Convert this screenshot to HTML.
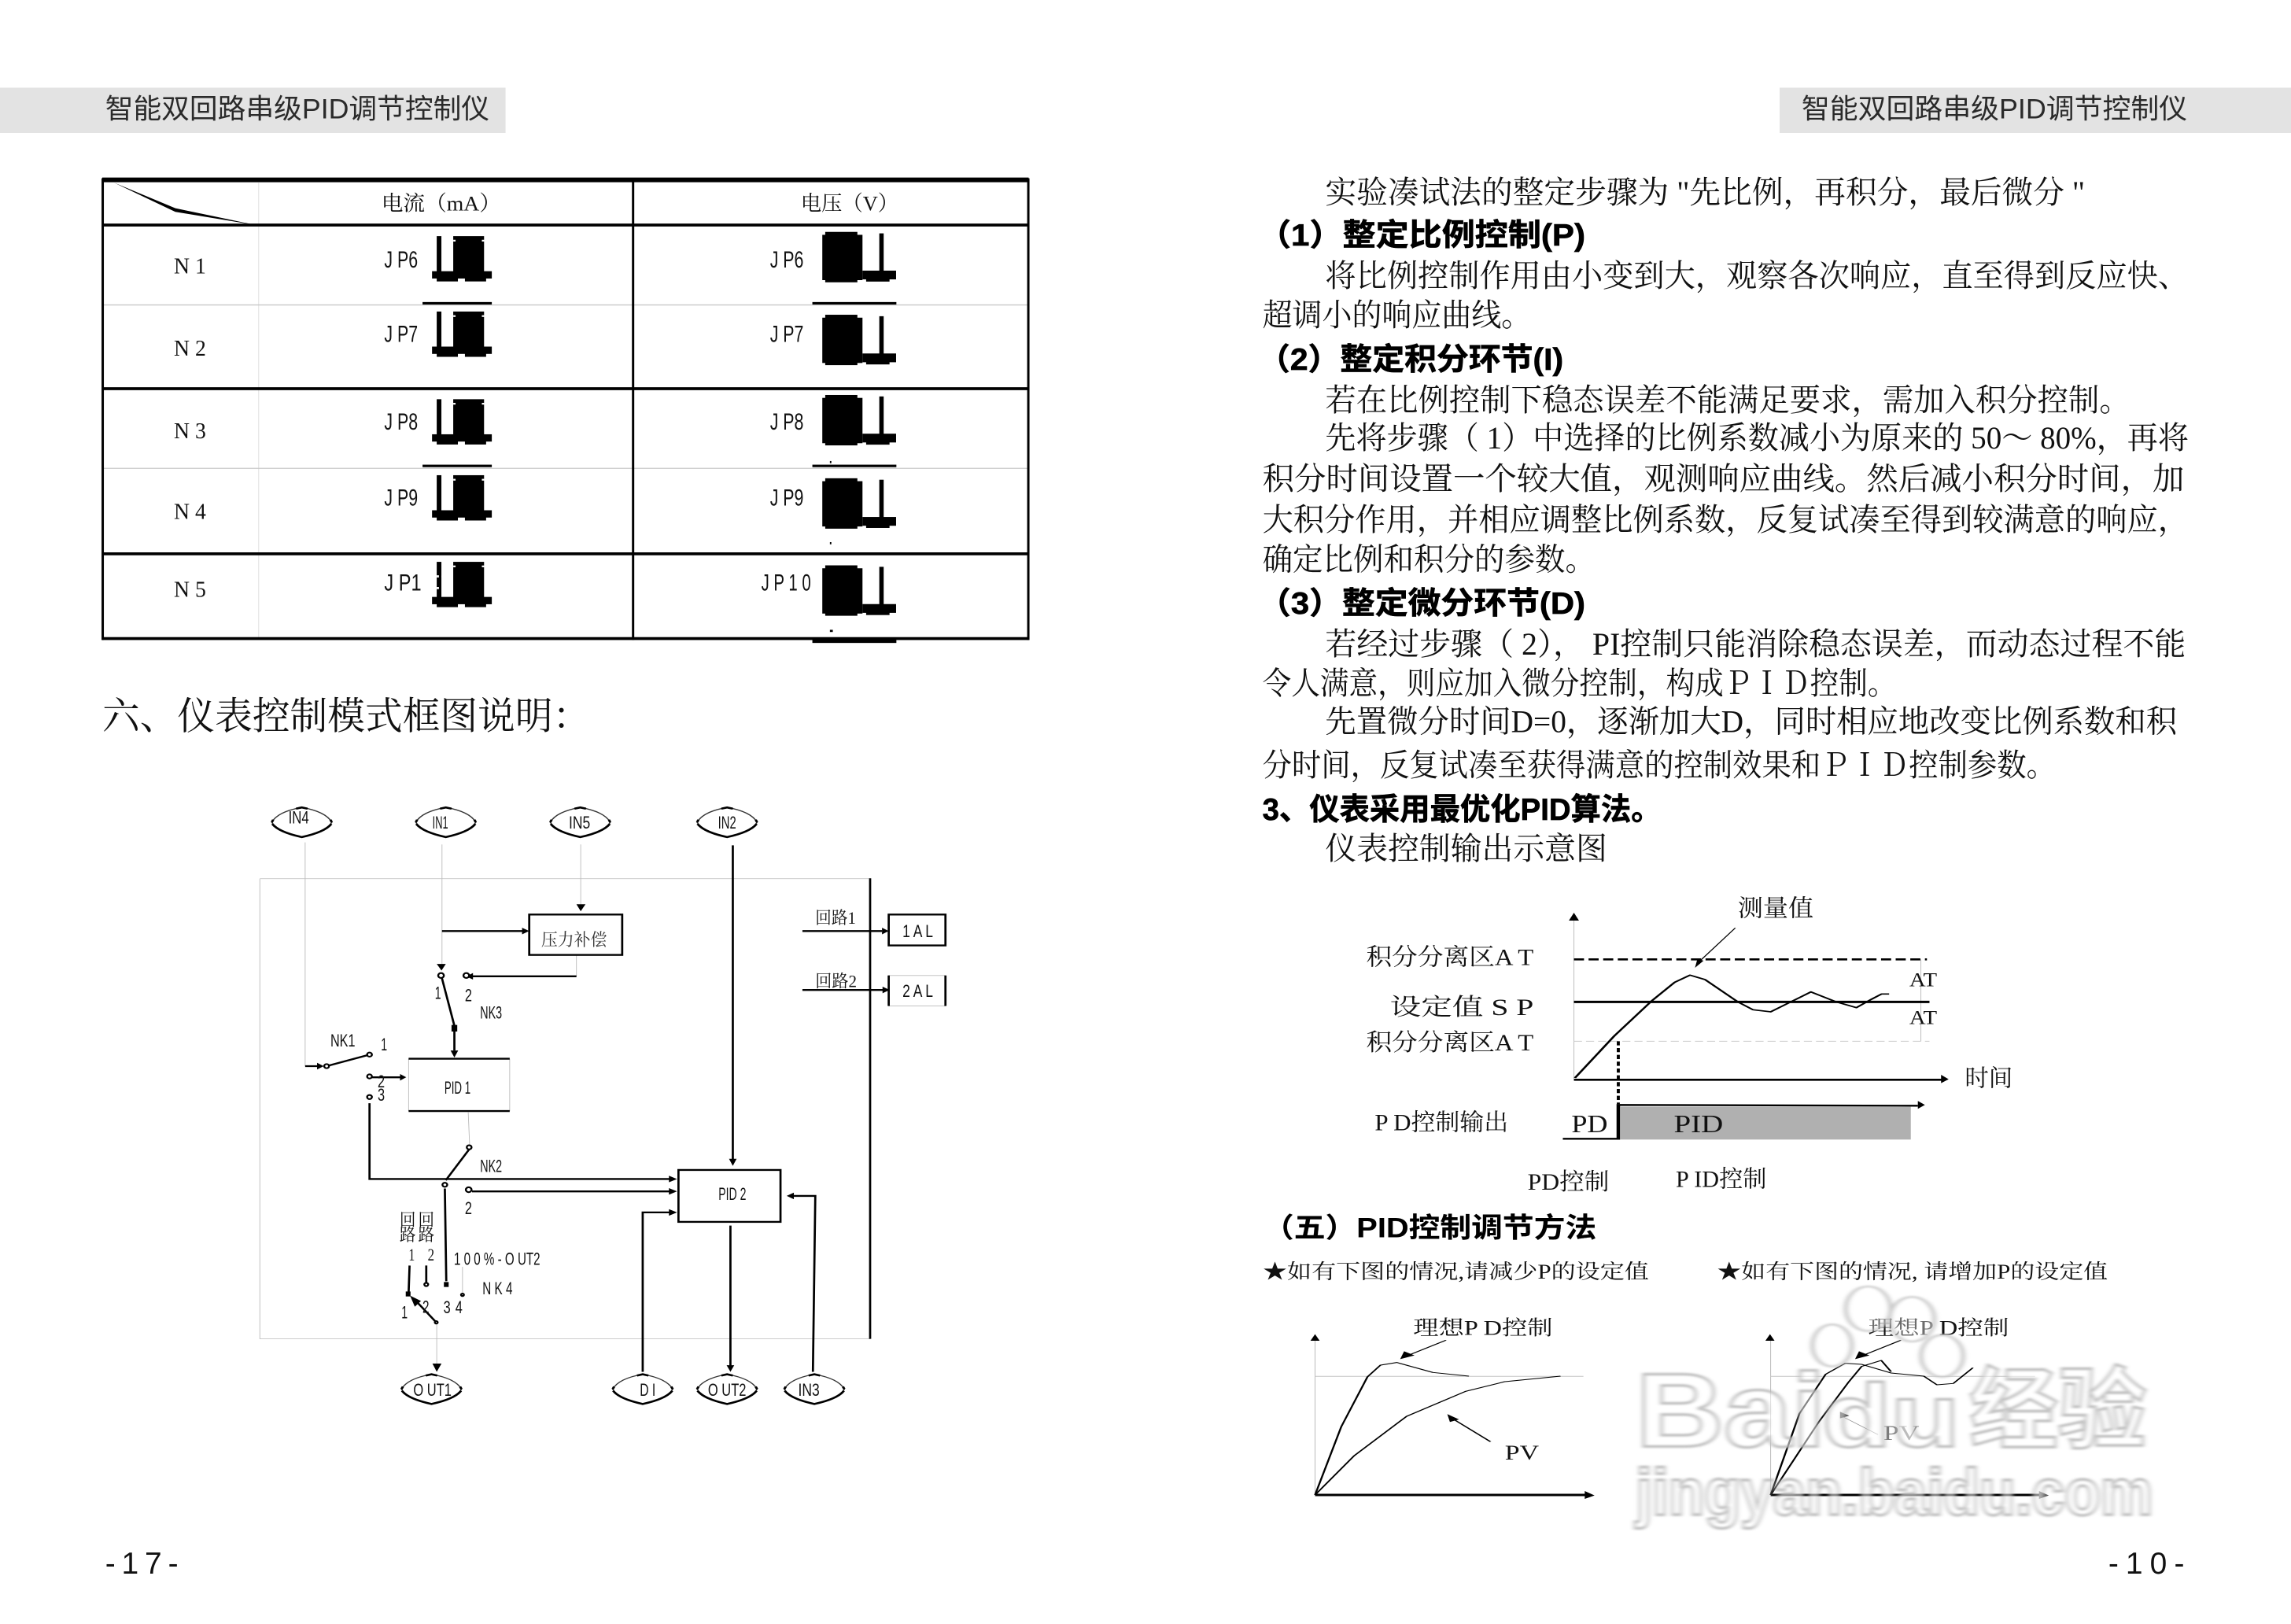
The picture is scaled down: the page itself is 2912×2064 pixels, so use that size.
<!DOCTYPE html>
<html><head><meta charset="utf-8">
<style>
html,body{margin:0;padding:0;background:#fff;width:2912px;height:2064px;overflow:hidden}
svg{display:block}
text{font-family:"Liberation Serif","Noto Serif CJK SC",serif;fill:#111}
.s,.s text{font-family:"Liberation Sans","Noto Sans CJK SC",sans-serif}
.b,.b text{font-family:"Liberation Sans","Noto Sans CJK SC",sans-serif;font-weight:700;fill:#000;stroke:#000;stroke-width:.35px}
.g{fill:none;stroke:#bbb}
.k{fill:none;stroke:#000}
</style></head><body>
<svg xmlns="http://www.w3.org/2000/svg" width="2912" height="2064" viewBox="0 0 2912 2064">
<defs>
<g id="ic1"><rect x="298.9" y="0" width="3.2" height="25" fill="#000"/><rect x="310.2" y="0" width="21.1" height="25" fill="#000"/><rect x="295.7" y="24" width="40.9" height="5" fill="#000"/><rect x="298.9" y="28" width="14.5" height="3" fill="#000"/><rect x="318.2" y="28" width="14.5" height="3" fill="#000"/><rect x="310.2" y="2.5" width="1.6" height="1.2" fill="#fff"/><rect x="329.8" y="2.5" width="1.6" height="1.2" fill="#fff"/></g>
<g id="ic2"><rect x="562.8" y="2" width="27.5" height="31" fill="#000"/><rect x="564.8" y="0" width="22" height="34.5" fill="#000"/><rect x="601.8" y="1" width="3" height="27" fill="#000"/><rect x="590.3" y="26.5" width="23" height="6" fill="#000"/><rect x="592.8" y="31" width="16" height="3" fill="#000"/></g>
<g id="el">
<path d="M-63,0Q-50,-26 0,-36Q50,-26 63,0Q50,24 0,36Q-50,24 -63,0Z" fill="#fff" stroke="#333" stroke-width="2.5"/>
<path d="M-62,4Q-48,24 0,36Q48,24 62,4M-12,-33L0,-36L12,-33M-63,0L-60,-6M63,0L60,-6" fill="none" stroke="#000" stroke-width="5"/>
</g>
<filter id="bl" x="-10%" y="-10%" width="120%" height="120%"><feGaussianBlur stdDeviation="3.5"/></filter>
</defs>

<g transform="scale(1.85714)">
<!-- headers -->
<rect x="0" y="60" width="346" height="31" fill="#e3e3e3"/>
<rect x="1218" y="60" width="350" height="31" fill="#e3e3e3"/>
<g class="s">
<text x="72" y="81" font-size="19" textLength="263" lengthAdjust="spacingAndGlyphs" style="fill:#2a2a2a">智能双回路串级PID调节控制仪</text>
<text x="1233" y="81" font-size="19" textLength="264" lengthAdjust="spacingAndGlyphs" style="fill:#2a2a2a">智能双回路串级PID调节控制仪</text>
<text x="72" y="1077" font-size="21" textLength="50" lengthAdjust="spacing">-17-</text>
<text x="1443" y="1077" font-size="21" textLength="52" lengthAdjust="spacing">-10-</text>
</g>

<!-- table -->
<line x1="177" y1="125" x2="177" y2="437" stroke="#e6e6e6" stroke-width=".7"/>
<line x1="70" y1="208.7" x2="704" y2="208.7" stroke="#c8c8c8" stroke-width=".7"/>
<line x1="70" y1="320.5" x2="704" y2="320.5" stroke="#c8c8c8" stroke-width=".7"/>
<rect x="70" y="121.5" width="634" height="3.2" fill="#000"/>
<rect x="70" y="153" width="634" height="2" fill="#000"/>
<rect x="70" y="265" width="634" height="2" fill="#000"/>
<rect x="70" y="378" width="634" height="2" fill="#000"/>
<rect x="70" y="436" width="634" height="2" fill="#000"/>
<rect x="69.5" y="122" width="1.6" height="316" fill="#000"/>
<rect x="703" y="122" width="1.6" height="316" fill="#000"/>
<rect x="432.5" y="122" width="1.6" height="316" fill="#000"/>
<polygon points="78,125 120,142.5 175,154 120,145" fill="#000"/>
<text x="261" y="144" font-size="14.5" textLength="82" lengthAdjust="spacingAndGlyphs">电流（mA）</text>
<text x="548" y="144" font-size="14.5" textLength="67" lengthAdjust="spacingAndGlyphs">电压（V）</text>
<g font-size="15.5">
<text x="119" y="187" textLength="22" lengthAdjust="spacingAndGlyphs">N 1</text>
<text x="119" y="243.5" textLength="22" lengthAdjust="spacingAndGlyphs">N 2</text>
<text x="119" y="300" textLength="22" lengthAdjust="spacingAndGlyphs">N 3</text>
<text x="119" y="355" textLength="22" lengthAdjust="spacingAndGlyphs">N 4</text>
<text x="119" y="408.5" textLength="22" lengthAdjust="spacingAndGlyphs">N 5</text>
</g>
<g class="s" font-size="16">
<text x="263" y="183" textLength="23" lengthAdjust="spacingAndGlyphs">J P6</text>
<text x="263" y="234" textLength="23" lengthAdjust="spacingAndGlyphs">J P7</text>
<text x="263" y="294" textLength="23" lengthAdjust="spacingAndGlyphs">J P8</text>
<text x="263" y="346" textLength="23" lengthAdjust="spacingAndGlyphs">J P9</text>
<text x="263" y="404" textLength="36" lengthAdjust="spacingAndGlyphs">J P1 0</text>
<text x="527" y="183" textLength="23" lengthAdjust="spacingAndGlyphs">J P6</text>
<text x="527" y="234" textLength="23" lengthAdjust="spacingAndGlyphs">J P7</text>
<text x="527" y="294" textLength="23" lengthAdjust="spacingAndGlyphs">J P8</text>
<text x="527" y="346" textLength="23" lengthAdjust="spacingAndGlyphs">J P9</text>
<text x="521" y="404" textLength="34" lengthAdjust="spacingAndGlyphs">J P 1 0</text>
</g>
<rect x="291.6" y="383" width="8" height="27" fill="#fff"/>
<use href="#ic1" x="0" y="161.6"/><use href="#ic1" x="0" y="213.2"/><use href="#ic1" x="0" y="273.2"/><use href="#ic1" x="0" y="325.2"/><use href="#ic1" x="0" y="384.5"/>
<rect x="298.9" y="393.7" width="1.5" height="1.5" fill="#fff"/><rect x="298.9" y="401.7" width="1.5" height="1.5" fill="#fff"/><rect x="302.1" y="394" width="7" height="1" fill="#fff"/>
<use href="#ic2" x="0" y="158.7"/><use href="#ic2" x="0" y="215.4"/><use href="#ic2" x="0" y="270.3"/><use href="#ic2" x="0" y="327.3"/><use href="#ic2" x="0" y="386.9"/>
<rect x="289.2" y="206.7" width="47.4" height="1.7" fill="#000"/><rect x="556" y="206.7" width="57.5" height="1.7" fill="#000"/>
<rect x="289.2" y="318" width="47.4" height="1.7" fill="#000"/><rect x="556" y="318" width="57.5" height="1.7" fill="#000"/>
<rect x="556" y="437" width="57.5" height="3" fill="#000"/>
<rect x="568" y="315.5" width="1" height="1.5" fill="#000"/><rect x="568" y="371" width="1" height="1.5" fill="#000"/><rect x="568" y="431" width="2" height="1.5" fill="#000"/>

<text x="70" y="499" font-size="26" textLength="334" lengthAdjust="spacingAndGlyphs">六、仪表控制模式框图说明：</text>

<!-- right body -->
<g font-size="21.5">
<text x="907" y="139" textLength="520" lengthAdjust="spacingAndGlyphs">实验凑试法的整定步骤为 "先比例，再积分，最后微分 "</text>
<text x="907" y="196" textLength="591" lengthAdjust="spacingAndGlyphs">将比例控制作用由小变到大，观察各次响应，直至得到反应快、</text>
<text x="864" y="223" textLength="184" lengthAdjust="spacingAndGlyphs">超调小的响应曲线。</text>
<text x="907" y="281" textLength="551" lengthAdjust="spacingAndGlyphs">若在比例控制下稳态误差不能满足要求，需加入积分控制。</text>
<text x="907" y="307" textLength="591" lengthAdjust="spacingAndGlyphs">先将步骤（ 1）中选择的比例系数减小为原来的 50～ 80%，再将</text>
<text x="864" y="335" textLength="631" lengthAdjust="spacingAndGlyphs">积分时间设置一个较大值，观测响应曲线。然后减小积分时间，加</text>
<text x="864" y="363" textLength="634" lengthAdjust="spacingAndGlyphs">大积分作用，并相应调整比例系数，反复试凑至得到较满意的响应，</text>
<text x="864" y="390" textLength="228" lengthAdjust="spacingAndGlyphs">确定比例和积分的参数。</text>
<text x="907" y="448" textLength="589" lengthAdjust="spacingAndGlyphs">若经过步骤（ 2），  PI控制只能消除稳态误差，而动态过程不能</text>
<text x="864" y="475" textLength="434" lengthAdjust="spacingAndGlyphs">令人满意，则应加入微分控制，构成ＰＩＤ控制。</text>
<text x="907" y="501" textLength="583" lengthAdjust="spacingAndGlyphs">先置微分时间D=0，逐渐加大D，同时相应地改变比例系数和积</text>
<text x="864" y="531" textLength="543" lengthAdjust="spacingAndGlyphs">分时间，反复试凑至获得满意的控制效果和ＰＩＤ控制参数。</text>
<text x="907" y="588" textLength="193" lengthAdjust="spacingAndGlyphs">仪表控制输出示意图</text>
</g>
<g class="b" font-size="21">
<text x="861" y="168" textLength="224" lengthAdjust="spacingAndGlyphs">（1）整定比例控制(P)</text>
<text x="861" y="253" textLength="209" lengthAdjust="spacingAndGlyphs">（2）整定积分环节(I)</text>
<text x="861" y="420" textLength="224" lengthAdjust="spacingAndGlyphs">（3）整定微分环节(D)</text>
<text x="864" y="561" textLength="273" lengthAdjust="spacingAndGlyphs">3、仪表采用最优化PID算法。</text>
</g>
</g>

<!-- block diagram, zoom coordinates -->
<g transform="translate(300,1000) scale(.606,.5236)">
<path class="g" stroke-width="1.5" d="M50,223H1330M50,223V1340H1330M145,135V678M432,140V430M723,140V285M714,408V460M487,790L490,870M475,1165V1228M421,1305V1400M362,660V787M574,660V787M1368,458H1488M1368,532H1488"/>
<use href="#el" x="138" y="86"/><use href="#el" x="440" y="86"/><use href="#el" x="722" y="86"/><use href="#el" x="1030" y="86"/>
<use href="#el" x="410" y="1462"/><use href="#el" x="853" y="1462"/><use href="#el" x="1030" y="1462"/><use href="#el" x="1213" y="1462"/>
<g class="k" stroke-width="4.5">
<path d="M1330,222V1340"/>
<rect x="615" y="310" width="195" height="98"/>
<path d="M362,660H574M362,787H574"/>
<rect x="928" y="930" width="214" height="126"/>
<rect x="1369" y="310" width="119" height="75"/>
<path d="M1369,458V532M1488,458V532"/>
<path d="M432,350H602M714,460H495M145,678H172M458,590V640M285,705H345M280,768V952H912M495,982H912M1042,142V905M853,1420V1033H912M1037,1065V1405M1210,1420L1215,993H1170M1188,350H1355M1188,493H1358"/>
<path d="M432,465L458,580M190,678L280,650M489,880L440,955M438,975L441,1200M364,1162L362,1228M399,1162V1205M420,1300L375,1245"/>
</g>
<g fill="#000">
<polygon points="600,342 615,350 600,358"/><polygon points="714,285 733,285 723,302"/><polygon points="421,430 440,430 431,446"/>
<polygon points="497,452 483,460 497,468"/><polygon points="170,670 184,678 170,686"/><polygon points="450,640 466,640 458,657"/>
<polygon points="344,697 357,705 344,713"/><polygon points="908,944 925,952 908,960"/><polygon points="908,974 925,982 908,990"/>
<polygon points="1034,903 1050,903 1042,920"/><polygon points="908,1025 925,1033 908,1041"/><polygon points="1029,1404 1045,1404 1037,1420"/>
<polygon points="1170,985 1155,993 1170,1001"/><polygon points="1355,342 1369,350 1355,358"/><polygon points="1356,485 1371,493 1356,501"/>
<polygon points="412,1400 431,1400 421,1420"/><polygon points="365,1235 388,1248 375,1262"/>
<rect x="452" y="578" width="12" height="16"/><rect x="436" y="1202" width="10" height="12"/><rect x="356" y="1225" width="10" height="12"/>
</g>
<g fill="#fff" stroke="#000" stroke-width="4">
<circle cx="430" cy="458" r="6"/><circle cx="483" cy="458" r="6"/><circle cx="190" cy="678" r="5"/><circle cx="280" cy="650" r="5"/><circle cx="280" cy="703" r="5"/><circle cx="280" cy="753" r="5"/><circle cx="489" cy="875" r="5"/><circle cx="438" cy="966" r="5"/><circle cx="488" cy="978" r="6"/><circle cx="399" cy="1208" r="4"/><circle cx="475" cy="1233" r="3"/><circle cx="420" cy="1300" r="3"/>
</g>
<g class="s" font-size="43">
<text x="110" y="89" textLength="43" lengthAdjust="spacingAndGlyphs">IN4</text>
<text x="412" y="101" textLength="33" lengthAdjust="spacingAndGlyphs">IN1</text>
<text x="698" y="101" textLength="45" lengthAdjust="spacingAndGlyphs">IN5</text>
<text x="1011" y="101" textLength="38" lengthAdjust="spacingAndGlyphs">IN2</text>
<text x="372" y="1478" textLength="80" lengthAdjust="spacingAndGlyphs">O UT1</text>
<text x="847" y="1478" textLength="33" lengthAdjust="spacingAndGlyphs">D I</text>
<text x="990" y="1478" textLength="80" lengthAdjust="spacingAndGlyphs">O UT2</text>
<text x="1179" y="1478" textLength="45" lengthAdjust="spacingAndGlyphs">IN3</text>
<text x="437" y="745" textLength="55" lengthAdjust="spacingAndGlyphs">PID 1</text>
<text x="1012" y="1003" textLength="58" lengthAdjust="spacingAndGlyphs">PID 2</text>
<text x="198" y="630" textLength="52" lengthAdjust="spacingAndGlyphs">NK1</text>
<text x="304" y="640" textLength="13" lengthAdjust="spacingAndGlyphs">1</text><text x="297" y="730" textLength="15" lengthAdjust="spacingAndGlyphs">2</text><text x="297" y="762" textLength="15" lengthAdjust="spacingAndGlyphs">3</text>
<text x="417" y="515" textLength="13" lengthAdjust="spacingAndGlyphs">1</text><text x="480" y="520" textLength="15" lengthAdjust="spacingAndGlyphs">2</text>
<text x="512" y="562" textLength="46" lengthAdjust="spacingAndGlyphs">NK3</text>
<text x="512" y="935" textLength="46" lengthAdjust="spacingAndGlyphs">NK2</text>
<text x="480" y="1037" textLength="15" lengthAdjust="spacingAndGlyphs">2</text>
<text x="457" y="1160" textLength="181" lengthAdjust="spacingAndGlyphs">1 0 0 % - O UT2</text>
<text x="517" y="1232" textLength="63" lengthAdjust="spacingAndGlyphs">N K 4</text>
<text x="347" y="1290" textLength="13" lengthAdjust="spacingAndGlyphs">1</text><text x="391" y="1277" textLength="14" lengthAdjust="spacingAndGlyphs">2</text><text x="435" y="1278" textLength="15" lengthAdjust="spacingAndGlyphs">3</text><text x="460" y="1278" textLength="15" lengthAdjust="spacingAndGlyphs">4</text>
<text x="1398" y="365" textLength="64" lengthAdjust="spacingAndGlyphs">1 A L</text>
<text x="1398" y="510" textLength="64" lengthAdjust="spacingAndGlyphs">2 A L</text>
</g>
<g font-size="42">
<text x="640" y="386" textLength="138" lengthAdjust="spacingAndGlyphs" style="fill:#333">压力补偿</text>
<text x="1215" y="332" textLength="85" lengthAdjust="spacingAndGlyphs">回路1</text>
<text x="1215" y="486" textLength="87" lengthAdjust="spacingAndGlyphs">回路2</text>
<text x="343" y="1066" textLength="34" lengthAdjust="spacingAndGlyphs">回</text><text x="343" y="1102" textLength="34" lengthAdjust="spacingAndGlyphs">路</text>
<text x="382" y="1066" textLength="34" lengthAdjust="spacingAndGlyphs">回</text><text x="382" y="1102" textLength="34" lengthAdjust="spacingAndGlyphs">路</text>
<text x="362" y="1150" textLength="13" lengthAdjust="spacingAndGlyphs">1</text><text x="402" y="1150" textLength="14" lengthAdjust="spacingAndGlyphs">2</text>
</g>
</g>

<!-- control chart -->
<g transform="translate(1577.5,1120) scale(.641,.3333)">
<rect x="752" y="860" width="576" height="125" fill="#b0b0b0"/>
<path class="g" stroke-width="1.5" d="M660,145V755M1348,298V610"/>
<polygon points="650,150 670,150 660,120" fill="#000"/>
<path d="M660,298H1360" stroke="#000" stroke-width="8" stroke-dasharray="20 9"/>
<path d="M660,610H1365" stroke="#ccc" stroke-width="3" stroke-dasharray="16 8"/>
<path d="M660,460H1365" stroke="#000" stroke-width="9"/>
<path d="M660,757H1392" stroke="#000" stroke-width="8"/>
<polygon points="1388,738 1403,755 1388,770" fill="#000"/>
<path d="M748,610V850" stroke="#000" stroke-width="6" stroke-dasharray="16 10"/>
<path class="k" stroke-width="7" d="M638,982H748V853L1342,856"/>
<polygon points="1342,838 1356,853 1342,868" fill="#000"/>
<path class="k" stroke-width="5" stroke-linejoin="round" d="M662,750L740,590L815,455L860,385L890,358L920,375L985,460L1015,490L1050,498L1090,460L1130,422L1180,460L1220,482L1250,450L1270,430L1285,430"/>
<path class="k" stroke-width="2.5" d="M980,178L912,300"/>
<polygon points="900,330 905,295 917,303" fill="#000"/>
<g font-size="90">
<text x="985" y="133" textLength="150" lengthAdjust="spacingAndGlyphs">测量值</text>
<text x="248" y="320" textLength="332" lengthAdjust="spacingAndGlyphs">积分分离区A T</text>
<text x="295" y="510" textLength="285" lengthAdjust="spacingAndGlyphs">设定值  S P</text>
<text x="248" y="645" textLength="332" lengthAdjust="spacingAndGlyphs">积分分离区A T</text>
<text x="1325" y="400" textLength="55" font-size="75" lengthAdjust="spacingAndGlyphs">AT</text>
<text x="1325" y="544" textLength="55" font-size="75" lengthAdjust="spacingAndGlyphs">AT</text>
<text x="1435" y="782" textLength="95" lengthAdjust="spacingAndGlyphs">时间</text>
<text x="265" y="950" textLength="265" lengthAdjust="spacingAndGlyphs">P D控制输出</text>
<text x="655" y="957" textLength="72" font-size="95" lengthAdjust="spacingAndGlyphs">PD</text>
<text x="858" y="957" textLength="98" font-size="95" lengthAdjust="spacingAndGlyphs">PID</text>
<text x="568" y="1176" textLength="162" lengthAdjust="spacingAndGlyphs">PD控制</text>
<text x="862" y="1166" textLength="180" lengthAdjust="spacingAndGlyphs">P ID控制</text>
</g>
</g>

<!-- bottom charts -->
<g transform="translate(1580,1530) scale(.832,.3333)">
<text class="b" x="30" y="128" font-size="105" textLength="510" lengthAdjust="spacingAndGlyphs">（五）PID控制调节方法</text>
<g font-size="78">
<text x="30" y="285" textLength="590" lengthAdjust="spacingAndGlyphs">★如有下图的情况,请减少P的设定值</text>
<text x="724" y="285" textLength="597" lengthAdjust="spacingAndGlyphs">★如有下图的情况, 请增加P的设定值</text>
<text x="260" y="500" textLength="213" lengthAdjust="spacingAndGlyphs">理想P D控制</text>
<text x="400" y="975" textLength="52" lengthAdjust="spacingAndGlyphs">PV</text>
<text x="955" y="500" textLength="215" lengthAdjust="spacingAndGlyphs">理想P D控制</text>
<text x="978" y="900" textLength="55" lengthAdjust="spacingAndGlyphs" style="fill:#777">PV</text>
</g>
<path class="g" stroke-width="1.2" d="M110,520V1110M806,520V1110"/>
<path d="M110,658H520M806,658H1210" stroke="#c4c4c4" stroke-width="3" fill="none"/>
<polygon points="103,522 117,522 110,497" fill="#000"/><polygon points="798,522 812,522 805,497" fill="#000"/>
<path d="M110,1110H526M806,1110H1220" stroke="#000" stroke-width="9"/>
<polygon points="522,1095 537,1112 522,1125" fill="#000"/><polygon points="1216,1095 1231,1112 1216,1125" fill="#555"/>
<g class="k" stroke-width="3" stroke-linejoin="round">
<path d="M110,1110L150,850L190,660L210,615L235,605L290,643L345,657"/>
<path d="M110,1110L170,960L250,810L340,715L400,678L485,657"/>
<path d="M310,520L250,580M378,907L322,822"/>
<path d="M806,1110L850,800L890,650L920,608L945,612L990,645L1040,657L1060,690L1085,685L1115,625"/>
<path d="M806,1110L880,830L925,680L945,620L975,597L990,640"/>
<path d="M1005,520L945,580"/>
</g>
<path d="M970,880L915,810" stroke="#888" stroke-width="1.5" fill="none"/>
<polygon points="240,592 246,562 262,578" fill="#000"/><polygon points="312,802 316,832 330,822" fill="#000"/>
<polygon points="935,592 941,562 957,578" fill="#000"/><polygon points="912,793 912,818 926,808" fill="#333"/>

<!-- watermark -->
<g filter="url(#bl)" opacity=".85">
<g fill="#fff" fill-opacity=".45" stroke="#c4c4c4" stroke-width="7">
<ellipse cx="955" cy="400" rx="34" ry="85"/><ellipse cx="1022" cy="440" rx="34" ry="85"/><ellipse cx="900" cy="540" rx="30" ry="80"/><ellipse cx="1068" cy="580" rx="32" ry="80"/>
</g>
<g stroke="#b8b8b8" stroke-width="11">
<text x="600" y="925" font-size="400" textLength="290" lengthAdjust="spacingAndGlyphs" style="fill:#fff;fill-opacity:.6;font-family:'Liberation Sans','Noto Sans CJK SC',sans-serif;font-weight:700">Bai</text>
<text x="885" y="925" font-size="340" textLength="210" lengthAdjust="spacingAndGlyphs" style="fill:#fff;fill-opacity:.6;font-family:'Liberation Sans','Noto Sans CJK SC',sans-serif;font-weight:700">du</text>
<text x="1110" y="905" font-size="340" textLength="270" lengthAdjust="spacingAndGlyphs" style="fill:#fff;fill-opacity:.6;font-family:'Liberation Sans','Noto Sans CJK SC',sans-serif;font-weight:700">经验</text>
<text x="600" y="1185" font-size="250" textLength="790" lengthAdjust="spacingAndGlyphs" style="fill:#fff;fill-opacity:.6;font-family:'Liberation Sans','Noto Sans CJK SC',sans-serif;font-weight:700">jingyan.baidu.com</text>
</g>
</g>
</g>
</svg>
</body></html>
